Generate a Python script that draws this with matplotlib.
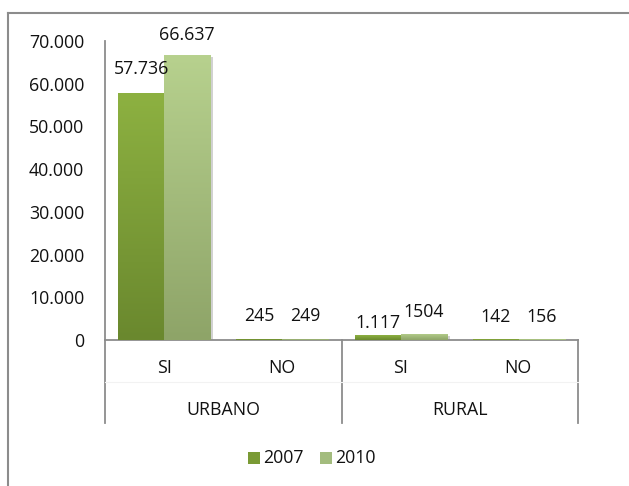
import matplotlib
matplotlib.use("Agg")
import matplotlib.pyplot as plt
import numpy as np
from matplotlib.lines import Line2D
from matplotlib.colors import LinearSegmentedColormap
import matplotlib.patheffects as pe

plt.rcParams['font.family'] = ['Open Sans', 'DejaVu Sans']

groups = ["URBANO", "RURAL"]
subcats = ["SI", "NO", "SI", "NO"]
series = ["2007", "2010"]
vals_2007 = [57736, 245, 1117, 142]
vals_2010 = [66637, 249, 1504, 156]
labels_2007 = ["57.736", "245", "1.117", "142"]
labels_2010 = ["66.637", "249", "1504", "156"]
yticks = [0, 10000, 20000, 30000, 40000, 50000, 60000, 70000]
ytick_labels = ["0", "10.000", "20.000", "30.000", "40.000", "50.000", "60.000", "70.000"]

W, H = 629, 486
FS = 12.8
fig = plt.figure(figsize=(W / 100, H / 100), dpi=100)
fig.patch.set_facecolor("white")

ax = fig.add_axes([105 / W, 1 - 340 / H, (578 - 105) / W, (340 - 41) / H])
ax.set_xlim(-0.5, 3.5)
ax.set_ylim(0, 70000)

txtc = "#111111"
axc = "#8c8c8c"

cm07 = LinearSegmentedColormap.from_list("c07", ["#6a882e", "#8db141"])
cm10 = LinearSegmentedColormap.from_list("c10", ["#8ea468", "#b7d18e"])
bw = 0.39
x = np.arange(len(subcats))
grad = np.linspace(0, 1, 256).reshape(-1, 1)

def draw(xs, vals, cmap, base):
    bars = ax.bar(xs, vals, width=bw, color=base, edgecolor="none", zorder=2,
                  path_effects=[pe.SimplePatchShadow(offset=(2, -1.5), alpha=0.18,
                                                     shadow_rgbFace="#000000"),
                                pe.Normal()])
    for b in bars:
        x0 = b.get_x(); x1 = x0 + b.get_width(); h = b.get_height()
        im = ax.imshow(grad, cmap=cmap, origin="lower", aspect="auto",
                       extent=[x0, x1, 0, h], zorder=3)
        im.set_clip_path(b)
    return bars

draw(x - bw / 2, vals_2007, cm07, "#7a9a35")
draw(x + bw / 2, vals_2010, cm10, "#a0b97a")

# data labels (offset in pixels above bar top)
off07 = [24, 23, 12, 22]
off10 = [20, 23, 22, 22]
for i in range(len(subcats)):
    ax.annotate(labels_2007[i], (x[i] - bw / 2, vals_2007[i]), xytext=(0, off07[i]),
                textcoords="offset pixels", ha="center", va="center",
                fontsize=FS, color=txtc, zorder=5)
    ax.annotate(labels_2010[i], (x[i] + bw / 2, vals_2010[i]), xytext=(0, off10[i]),
                textcoords="offset pixels", ha="center", va="center",
                fontsize=FS, color=txtc, zorder=5)

ax.set_yticks(yticks)
ax.set_yticklabels(ytick_labels, fontsize=FS, color=txtc)
ax.tick_params(axis="y", length=0, pad=15)
ax.set_xticks([])
for s in ["top", "right"]:
    ax.spines[s].set_visible(False)
ax.spines["left"].set_color(axc)
ax.spines["bottom"].set_color(axc)
ax.spines["left"].set_linewidth(1.3)
ax.spines["bottom"].set_linewidth(1.3)
ax.patch.set_alpha(0)

# multi-level category axis
def fy(py):
    return 1 - py / H
def fx(px):
    return px / W

for px in [105, 341.5, 578]:
    fig.add_artist(Line2D([fx(px), fx(px)], [fy(340), fy(423)], color=axc, lw=1.3))
fig.add_artist(Line2D([fx(105), fx(578)], [fy(382), fy(382)], color="#f2f2f2", lw=0.8))

sub_x = [164, 282, 400, 518]
for sx, lab in zip(sub_x, subcats):
    fig.text(fx(sx), fy(368), lab, ha="center", va="center", fontsize=FS, color=txtc)
grp_x = [223, 460]
for gx, lab in zip(grp_x, groups):
    fig.text(fx(gx), fy(410), lab, ha="center", va="center", fontsize=FS, color=txtc)

# legend
leg_items = [(248, "#7a9a35", series[0]), (320, "#a3bc7e", series[1])]
for lx, col, lab in leg_items:
    fig.patches.append(plt.Rectangle((fx(lx), fy(464)), 12 / W, 12 / H, transform=fig.transFigure,
                                     facecolor=col, edgecolor="none"))
    fig.text(fx(lx + 15), fy(458), lab, ha="left", va="center", fontsize=FS, color=txtc)

# outer chart border
fig.add_artist(Line2D([fx(8), fx(8)], [fy(13), 0], color=axc, lw=1.5))
fig.add_artist(Line2D([fx(8), 1], [fy(13), fy(13)], color=axc, lw=1.5))

fig.savefig("out.png", dpi=100, facecolor="white")
